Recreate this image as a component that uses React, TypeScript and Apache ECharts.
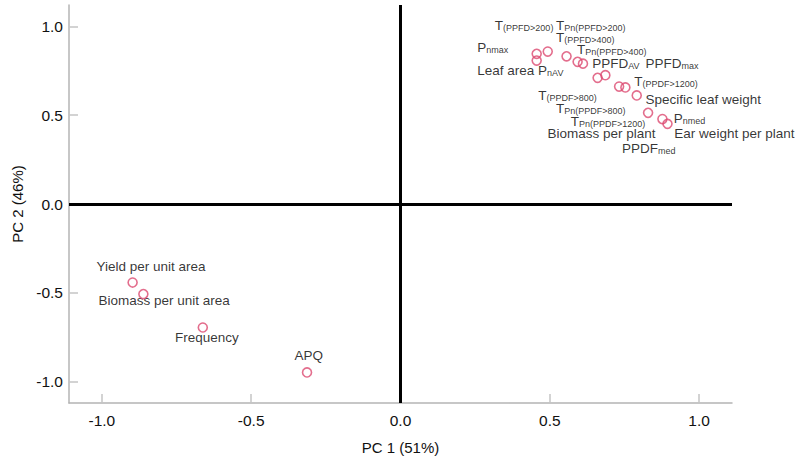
import React, { useEffect, useRef } from "react";
import * as echarts from "echarts";

// Loadings (PC1, PC2)
const pc1 = [0.456, 0.456, 0.493, 0.556, 0.593, 0.611, 0.66, 0.686, 0.732, 0.753, 0.791, 0.829, 0.877, 0.894, -0.897, -0.861, -0.662, -0.313];
const pc2 = [0.845, 0.807, 0.858, 0.831, 0.8, 0.79, 0.71, 0.725, 0.661, 0.656, 0.611, 0.513, 0.478, 0.451, -0.442, -0.507, -0.695, -0.948];

// Variable labels (rich text) and their anchor positions in data space
const labelTexts = [
  "{m|T}{s|(PPFD>200)}",
  "{m|T}{s|Pn(PPFD>200)}",
  "{m|T}{s|(PPFD>400)}",
  "{m|P}{s|nmax}",
  "{m|T}{s|Pn(PPFD>400)}",
  "{m|PPFD}{s|AV}",
  "{m|PPFD}{s|max}",
  "{m|Leaf area P}{s|nAV}",
  "{m|T}{s|(PPDF>1200)}",
  "{m|Specific leaf weight}",
  "{m|T}{s|(PPDF>800)}",
  "{m|T}{s|Pn(PPDF>800)}",
  "{m|T}{s|Pn(PPDF>1200)}",
  "{m|P}{s|nmed}",
  "{m|Biomass per plant}",
  "{m|Ear weight per plant}",
  "{m|PPDF}{s|med}",
  "{m|Yield per unit area}",
  "{m|Biomass per unit area}",
  "{m|Frequency}",
  "{m|APQ}",
];
const labelX = [0.316, 0.521, 0.521, 0.257, 0.591, 0.642, 0.82, 0.257, 0.783, 0.82, 0.461, 0.521, 0.57, 0.915, 0.492, 0.917, 0.742, -1.018, -1.011, -0.755, -0.355];
const labelY = [0.994, 0.994, 0.931, 0.871, 0.863, 0.781, 0.781, 0.742, 0.68, 0.579, 0.604, 0.53, 0.458, 0.47, 0.39, 0.386, 0.302, -0.361, -0.554, -0.757, -0.863];

const tickValues = [-1, -0.5, 0, 0.5, 1];
const xName = "PC 1 (51%)";
const yName = "PC 2 (46%)";

const FONT = 'Arial, "Liberation Sans", sans-serif';

export default function App() {
  const ref = useRef<HTMLDivElement>(null);
  useEffect(() => {
    document.body.style.margin = "0";
    const chart = echarts.init(ref.current!, null, { renderer: "svg" });
    const axisCommon = (name: string, min: number, max: number, gap: number, margin: number) => ({
      type: "value",
      min,
      max,
      name,
      nameLocation: "middle",
      nameGap: gap,
      nameTextStyle: { fontSize: 15, color: "#111", fontFamily: FONT },
      axisLine: { show: true, onZero: false, lineStyle: { color: "#b4b4b4", width: 1.5 } },
      axisTick: { show: true, inside: true, length: 9, customValues: tickValues, lineStyle: { color: "#c4c4c4", width: 1.5 } },
      axisLabel: {
        customValues: tickValues,
        formatter: (v: number) => v.toFixed(1),
        fontSize: 15.5,
        color: "#111",
        fontFamily: FONT,
        margin,
      },
      splitLine: { show: false },
    });
    chart.setOption({
      animation: false,
      backgroundColor: "#ffffff",
      grid: { left: 69, right: 68, top: 5, bottom: 60 },
      xAxis: axisCommon(xName, -1.11, 1.11, 37, 9),
      yAxis: axisCommon(yName, -1.12, 1.12, 44, 6),
      series: [
        {
          type: "scatter",
          z: 1,
          symbolSize: 0,
          data: labelTexts.map((t, i) => ({ name: t, value: [labelX[i], labelY[i]] })),
          label: {
            show: true,
            position: "right",
            distance: 0,
            offset: [0, -2],
            formatter: (p: any) => p.name,
            rich: {
              m: { fontSize: 13.5, color: "#000", fontFamily: FONT, verticalAlign: "bottom", lineHeight: 15 },
              s: { fontSize: 9, color: "#000", fontFamily: FONT, verticalAlign: "bottom", lineHeight: 10 },
            },
          },
          markLine: {
            silent: true,
            symbol: "none",
            label: { show: false },
            lineStyle: { color: "#000", width: 3, type: "solid" },
            data: [{ xAxis: 0 }, { yAxis: 0 }],
          },
        },
        {
          type: "scatter",
          z: 3,
          symbol: "circle",
          symbolSize: 9,
          itemStyle: { color: "rgba(0,0,0,0)", borderColor: "#dc4a70", borderWidth: 1.6 },
          data: pc1.map((x, i) => [x, pc2[i]]),
        },
      ],
    });
    return () => chart.dispose();
  }, []);
  return <div ref={ref} style={{ position: "fixed", left: 0, top: 0, width: 800, height: 463 }} />;
}
